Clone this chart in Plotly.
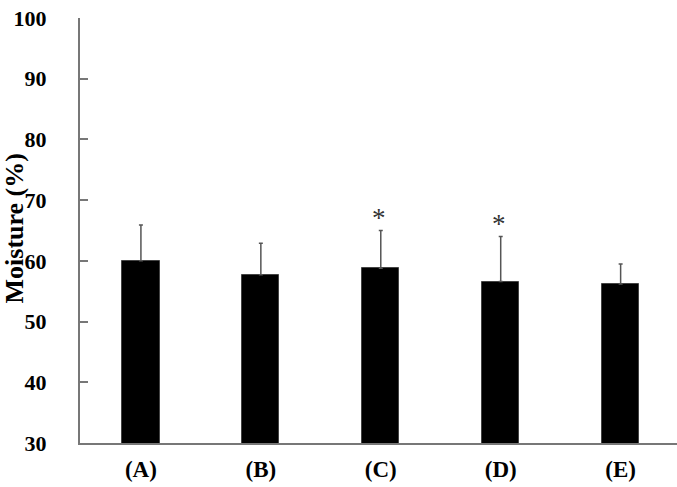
import plotly.graph_objects as go

categories = ["(A)", "(B)", "(C)", "(D)", "(E)"]
moisture = [60.0, 57.7, 58.8, 56.6, 56.2]
sd_upper = [5.9, 5.2, 6.2, 7.4, 3.3]
significant = [False, False, True, True, False]
y_ticks = [30, 40, 50, 60, 70, 80, 90, 100]

serif = "Liberation Serif, Times New Roman, serif"
xpos = list(range(len(categories)))

fig = go.Figure()
fig.add_trace(go.Bar(
    x=xpos, y=moisture, base=0, width=0.31,
    marker=dict(color="black", line=dict(color="#444", width=1)),
    error_y=dict(type="data", symmetric=False, array=sd_upper,
                 arrayminus=[0] * len(sd_upper),
                 color="#555", thickness=1.5, width=2),
    showlegend=False,
))

for i, (v, e, s) in enumerate(zip(moisture, sd_upper, significant)):
    if s:
        fig.add_annotation(x=i, y=v + e, text="*", showarrow=False,
                           yanchor="bottom", yshift=-4, xshift=-2,
                           font=dict(family=serif, size=27, color="#333"))

fig.add_annotation(xref="paper", yref="paper", x=0, y=0.5, xshift=-66, yshift=2,
                   text="<b>Moisture (%)</b>", textangle=-90, showarrow=False,
                   xanchor="center", yanchor="middle",
                   font=dict(family=serif, size=26, color="black"))

fig.update_layout(
    width=677, height=487,
    margin=dict(l=80, r=0, t=18, b=44),
    plot_bgcolor="white", paper_bgcolor="white",
    bargap=0,
    xaxis=dict(
        range=[-0.508, 4.47], tickmode="array", tickvals=xpos,
        ticktext=["<b>%s</b>" % c for c in categories],
        showline=True, linecolor="#777", linewidth=2, automargin=False,
        ticks="", showgrid=False, zeroline=False, ticklabelstandoff=4,
        tickfont=dict(family=serif, size=23, color="black"),
    ),
    yaxis=dict(
        range=[30, 100], tickmode="array", tickvals=y_ticks,
        ticktext=["<b>%d</b>" % t for t in y_ticks],
        showline=True, linecolor="#777", linewidth=2, automargin=False,
        ticks="inside", ticklen=8, tickwidth=2, tickcolor="#777",
        showgrid=False, zeroline=False, ticklabelstandoff=27,
        tickfont=dict(family=serif, size=22, color="black"),
    ),
)

fig.write_html("out.html")
